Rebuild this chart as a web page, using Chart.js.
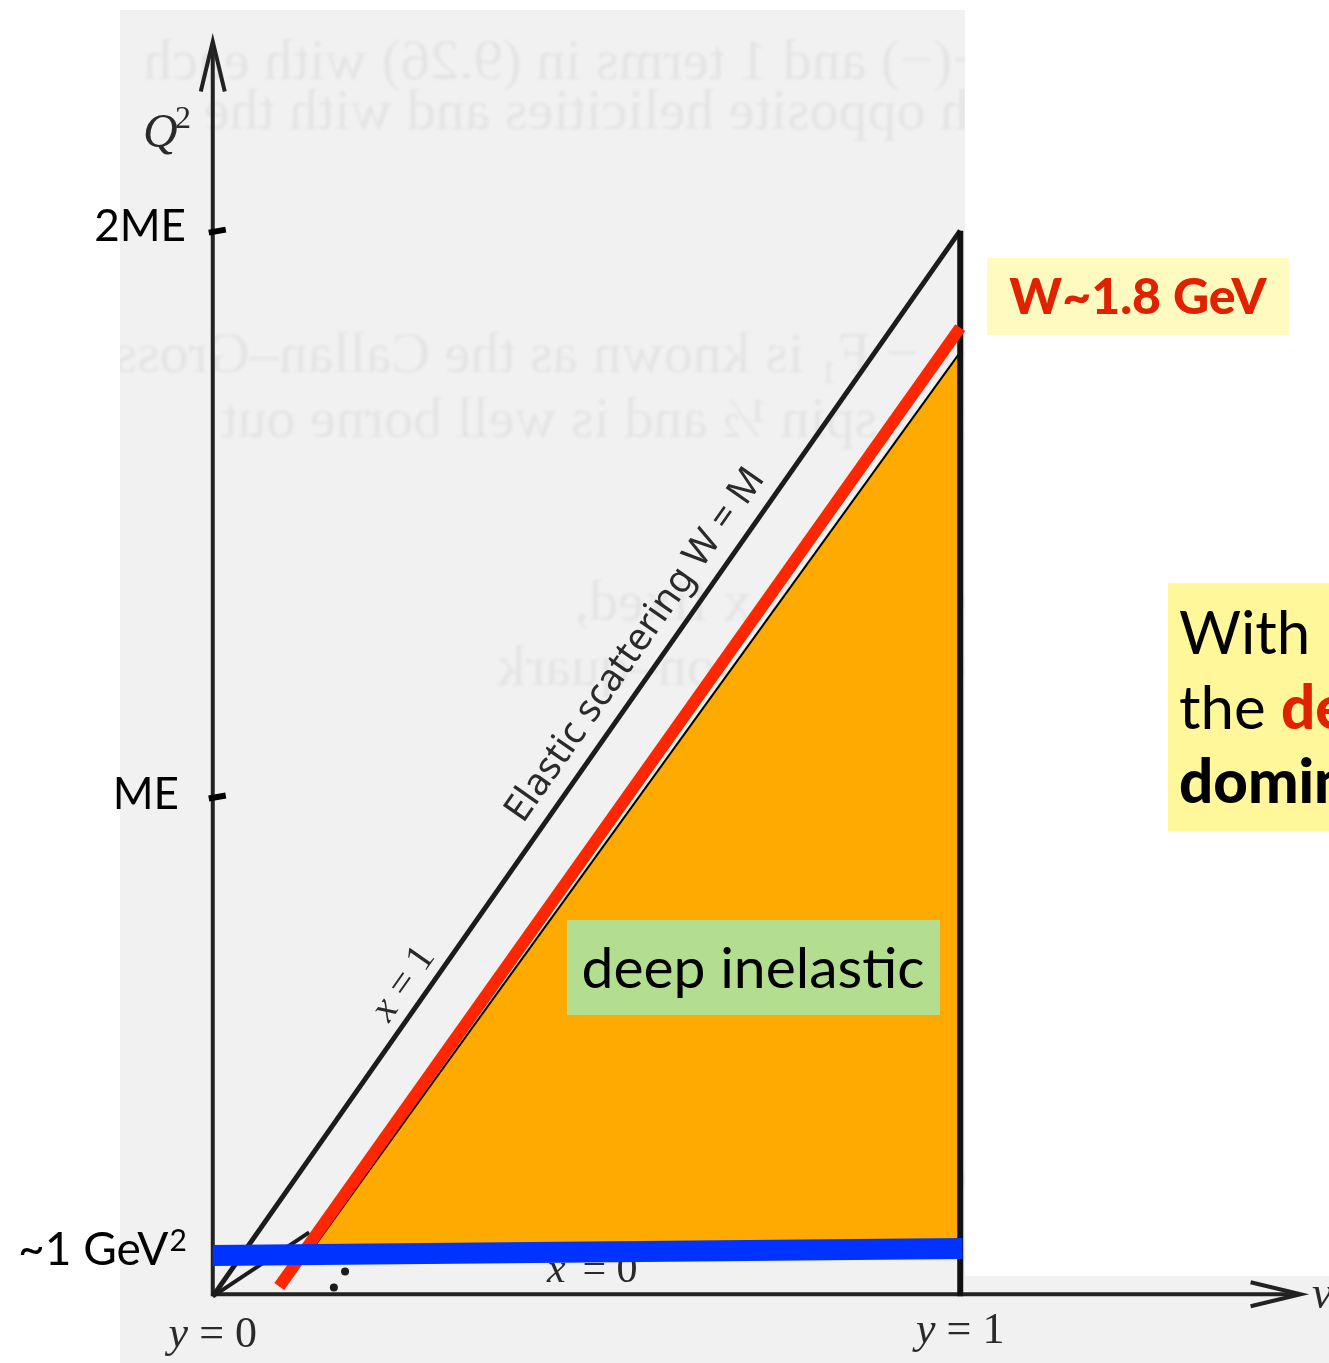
<!DOCTYPE html>
<html>
<head>
<meta charset="utf-8">
<title>Q2 - nu plane</title>
<script src="https://cdn.jsdelivr.net/npm/chart.js@4.4.1/dist/chart.umd.min.js"></script>
<style>
  html, body { margin: 0; padding: 0; background: #ffffff; }
  #wrap { width: 1329px; height: 1363px; position: relative; }
</style>
</head>
<body>
<div id="wrap"><canvas id="kinChart" width="1329" height="1363"></canvas></div>
<script>
// nu in units of y (y = 0 .. 1), Q2 in units of 2ME
const nuRange = [-0.2793, 1.4880];
const q2Range = [-0.0588, 1.2127];

// elastic line x = 1 (W = M)
const nuElastic = [0, 1.0];
const q2Elastic = [0, 1.0];
// y = 1 edge
const nuEdge = [1.0, 1.0];
const q2Edge = [0, 1.0];
// W ~ 1.8 GeV line
const nuW18 = [0.089, 1.0];
const q2W18 = [0.0093, 0.909];
// deep inelastic region
const nuDeep = [0.1356, 1.0, 1.0, 0.1356];
const q2Deep = [0.0466, 0.886, 0.0466, 0.0466];
// Q2 ~ 1 GeV2 cut
const nuCut = [0, 1.003];
const q2Cut = [0.0383, 0.0448];
// short line near origin and dots of the scanned figure
const nuLow = [0, 0.129];
const q2Low = [0, 0.060];
const nuDots = [0.177, 0.162];
const q2Dots = [0.0233, 0.0084];
// axes
const nuAxisX = [0, 1.45];
const q2AxisX = [0.002, 0.002];
const nuAxisY = [0, 0];
const q2AxisY = [0, 1.17];

// tick labels on the Q2 axis
const q2TickValues = [1.0, 0.469];
const q2TickLabels = ['2ME', 'ME'];
const nuTickValues = [0, 1];
const nuTickLabels = ['0', '1'];

// faint text showing through from the other side of the page
const bleedLines = [
  '+(−) and 1 terms in (9.26) with each',
  'th opposite helicities and with the',
  'F₂ − F₁ is known as the Callan–Gross',
  'ring spin ½ and is well borne out',
  'νW₂ with x fixed,',
  'virtual photon–quark',
  'M quarks'
];
const bleedRows = [0.070, 0.117, 0.345, 0.406, 0.578, 0.639, 1.115];

function pts(xs, ys) {
  return xs.map((x, i) => ({ x: x, y: ys[i] }));
}

function line(data, color, width, order) {
  return {
    data: data,
    showLine: true,
    fill: false,
    borderColor: color,
    borderWidth: width,
    pointRadius: 0,
    borderCapStyle: 'butt',
    order: order
  };
}

// background: white page, scanned figure, bleed-through text
const scanPlugin = {
  id: 'scan',
  beforeDraw(chart) {
    const ctx = chart.ctx;
    ctx.save();
    ctx.fillStyle = '#ffffff';
    ctx.fillRect(0, 0, chart.width, chart.height);

    ctx.beginPath();
    ctx.moveTo(120, 10);
    ctx.lineTo(965, 10);
    ctx.lineTo(965, 1276);
    ctx.lineTo(1329, 1276);
    ctx.lineTo(1329, 1363);
    ctx.lineTo(120, 1363);
    ctx.closePath();
    ctx.fillStyle = '#f1f1f1';
    ctx.fill();
    ctx.clip();

    // mirrored ghost text
    ctx.scale(-1, 1);
    ctx.filter = 'blur(1.5px)';
    ctx.fillStyle = 'rgba(0,0,0,0.05)';
    ctx.font = '58px "Liberation Serif"';
    ctx.textAlign = 'left';
    ctx.textBaseline = 'alphabetic';
    const yScale = chart.scales.y;
    bleedLines.forEach((t, i) => {
      const y = yScale.getPixelForValue(q2Range[1] - bleedRows[i]);
      ctx.fillText(t, -985, y);
    });
    ctx.restore();
  },
  beforeDatasetsDraw(chart) {
    const ctx = chart.ctx;
    const x = chart.scales.x, y = chart.scales.y;
    // "x = 0" sits under the blue cut
    ctx.save();
    ctx.fillStyle = '#2a2a2a';
    ctx.textBaseline = 'alphabetic';
    const bx = x.getPixelForValue(0.447), by = y.getPixelForValue(0.0) - 14;
    ctx.font = 'italic 42px "Liberation Serif"';
    ctx.fillText('x', bx, by);
    ctx.font = '42px "Liberation Serif"';
    ctx.fillText(' = 0', bx + ctx.measureText('x').width + 4, by);
    ctx.restore();
  }
};

function arrowHead(ctx, tip, a, b) {
  ctx.beginPath();
  ctx.moveTo(a[0], a[1]);
  ctx.lineTo(tip[0], tip[1]);
  ctx.lineTo(b[0], b[1]);
  ctx.stroke();
}

const labelPlugin = {
  id: 'labels',
  afterDatasetsDraw(chart) {
    const ctx = chart.ctx;
    const x = chart.scales.x, y = chart.scales.y;
    const angle = Math.atan2(y.getPixelForValue(0) - y.getPixelForValue(1), x.getPixelForValue(1) - x.getPixelForValue(0));
    ctx.save();

    // arrow heads
    ctx.strokeStyle = '#222222';
    ctx.lineWidth = 4;
    ctx.lineJoin = 'miter';
    const ty = [x.getPixelForValue(0), y.getPixelForValue(q2AxisY[1]) - 8];
    arrowHead(ctx, ty, [ty[0] - 12, ty[1] + 50], [ty[0] + 12, ty[1] + 50]);
    const tx = [x.getPixelForValue(nuAxisX[1]) + 4, y.getPixelForValue(q2AxisX[0])];
    arrowHead(ctx, tx, [tx[0] - 50, tx[1] - 12], [tx[0] - 50, tx[1] + 12]);

    // ticks on the Q2 axis
    ctx.strokeStyle = '#000000';
    ctx.lineWidth = 6;
    q2TickValues.forEach(v => {
      const py = y.getPixelForValue(v);
      const p0 = x.getPixelForValue(0);
      ctx.beginPath();
      ctx.moveTo(p0 - 4, py + 2);
      ctx.lineTo(p0 + 13, py - 1);
      ctx.stroke();
    });

    // tick labels
    ctx.fillStyle = '#000000';
    ctx.font = '44px Lato';
    ctx.textAlign = 'right';
    ctx.textBaseline = 'middle';
    ctx.fillText(q2TickLabels[0], 186, y.getPixelForValue(q2TickValues[0]) - 4);
    ctx.fillText(q2TickLabels[1], 179, y.getPixelForValue(q2TickValues[1]) - 2);

    // ~1 GeV2 label
    ctx.textAlign = 'left';
    ctx.textBaseline = 'alphabetic';
    ctx.font = '46px Lato';
    const cutY = y.getPixelForValue(q2Cut[0]) + 9;
    ctx.fillText('~1 GeV', 18, cutY);
    const gw = ctx.measureText('~1 GeV').width;
    ctx.font = '30px Lato';
    ctx.fillText('2', 18 + gw + 1, cutY - 14);

    // scanned axis labels
    ctx.fillStyle = '#2a2a2a';
    ctx.font = 'italic 48px "Liberation Serif"';
    ctx.fillText('Q', 143, 147);
    ctx.font = '32px "Liberation Serif"';
    ctx.fillText('2', 175, 128);

    nuTickValues.forEach((v, i) => {
      const cx = x.getPixelForValue(v);
      ctx.font = 'italic 44px "Liberation Serif"';
      const w1 = ctx.measureText('y').width;
      ctx.font = '44px "Liberation Serif"';
      const w2 = ctx.measureText(' = ' + nuTickLabels[i]).width;
      const left = cx - (w1 + w2) / 2;
      const by = 1347 - i * 4;
      ctx.font = 'italic 44px "Liberation Serif"';
      ctx.fillText('y', left, by);
      ctx.font = '44px "Liberation Serif"';
      ctx.fillText(' = ' + nuTickLabels[i], left + w1, by);
    });
    ctx.font = 'italic 46px "Liberation Serif"';
    ctx.fillText('ν', 1312, 1308);

    // labels along the elastic line
    function along(v, dist, drawFn) {
      const px = x.getPixelForValue(v), py = y.getPixelForValue(v);
      ctx.save();
      ctx.translate(px - Math.sin(angle) * dist, py - Math.cos(angle) * dist);
      ctx.rotate(-angle);
      ctx.textAlign = 'center';
      ctx.textBaseline = 'middle';
      drawFn();
      ctx.restore();
    }
    along(0.596, 28, () => {
      ctx.fillStyle = '#2a2a2a';
      ctx.font = '38px "Noto Sans"';
      ctx.fillText('Elastic scattering W = M', 0, 0);
    });
    along(0.282, 23, () => {
      ctx.fillStyle = '#2a2a2a';
      ctx.font = 'italic 40px "Liberation Serif"';
      ctx.textAlign = 'left';
      const w = ctx.measureText('x = 1').width;
      ctx.fillText('x', -w / 2, 0);
      ctx.font = '40px "Liberation Serif"';
      ctx.fillText(' = 1', -w / 2 + 19, 0);
    });

    // "deep inelastic" box
    ctx.fillStyle = '#b3de8f';
    ctx.fillRect(567, 920, 373, 95);
    ctx.fillStyle = '#000000';
    ctx.font = '57px Lato';
    ctx.textAlign = 'center';
    ctx.textBaseline = 'alphabetic';
    ctx.fillText('deep inelastic', 753, 988);

    // W ~ 1.8 GeV box
    ctx.fillStyle = '#fffbc0';
    ctx.fillRect(987, 258, 302, 77);
    ctx.fillStyle = '#e02200';
    ctx.font = '900 50px Lato';
    ctx.fillText('W~1.8 GeV', 1138, 314);

    // side note, cut off by the page edge
    ctx.fillStyle = '#fff799';
    ctx.fillRect(1168, 583, 161, 248);
    ctx.textAlign = 'left';
    ctx.fillStyle = '#000000';
    ctx.font = '60px Lato';
    ctx.fillText('With', 1179, 654);
    ctx.fillText('the ', 1179, 729);
    const tw = ctx.measureText('the ').width;
    ctx.fillStyle = '#e02200';
    ctx.font = '900 60px Lato';
    ctx.fillText('deep inelastic', 1179 + tw, 729);
    ctx.fillStyle = '#000000';
    ctx.fillText('dominates', 1179, 803);

    ctx.restore();
  }
};

const chart = new Chart(document.getElementById('kinChart'), {
  type: 'scatter',
  data: {
    datasets: [
      line(pts(nuCut, q2Cut), '#0033ff', 21, 1),
      line(pts(nuW18, q2W18), '#ff2600', 12, 2),
      line(pts(nuEdge, q2Edge), '#111111', 6, 3),
      line(pts(nuElastic, q2Elastic), '#1c1c1c', 5, 3),
      line(pts(nuLow, q2Low), '#1c1c1c', 4, 3),
      line(pts(nuAxisX, q2AxisX), '#222222', 4, 3),
      line(pts(nuAxisY, q2AxisY), '#222222', 4, 3),
      {
        data: pts(nuDots, q2Dots),
        showLine: false,
        pointRadius: 4,
        pointBackgroundColor: '#1c1c1c',
        pointBorderWidth: 0,
        order: 3
      },
      line(pts(nuDeep.slice(0, 2), q2Deep.slice(0, 2)), '#000000', 2, 4),
      {
        data: pts(nuDeep, q2Deep),
        showLine: true,
        fill: 'shape',
        backgroundColor: '#ffaa00',
        borderColor: '#ffaa00',
        borderWidth: 0,
        pointRadius: 0,
        tension: 0,
        order: 5
      }
    ]
  },
  options: {
    responsive: false,
    animation: false,
    layout: { padding: 0 },
    scales: {
      x: { type: 'linear', min: nuRange[0], max: nuRange[1], display: false },
      y: { type: 'linear', min: q2Range[0], max: q2Range[1], display: false }
    },
    plugins: {
      legend: { display: false },
      tooltip: { enabled: false }
    }
  },
  plugins: [scanPlugin, labelPlugin]
});
</script>
</body>
</html>
